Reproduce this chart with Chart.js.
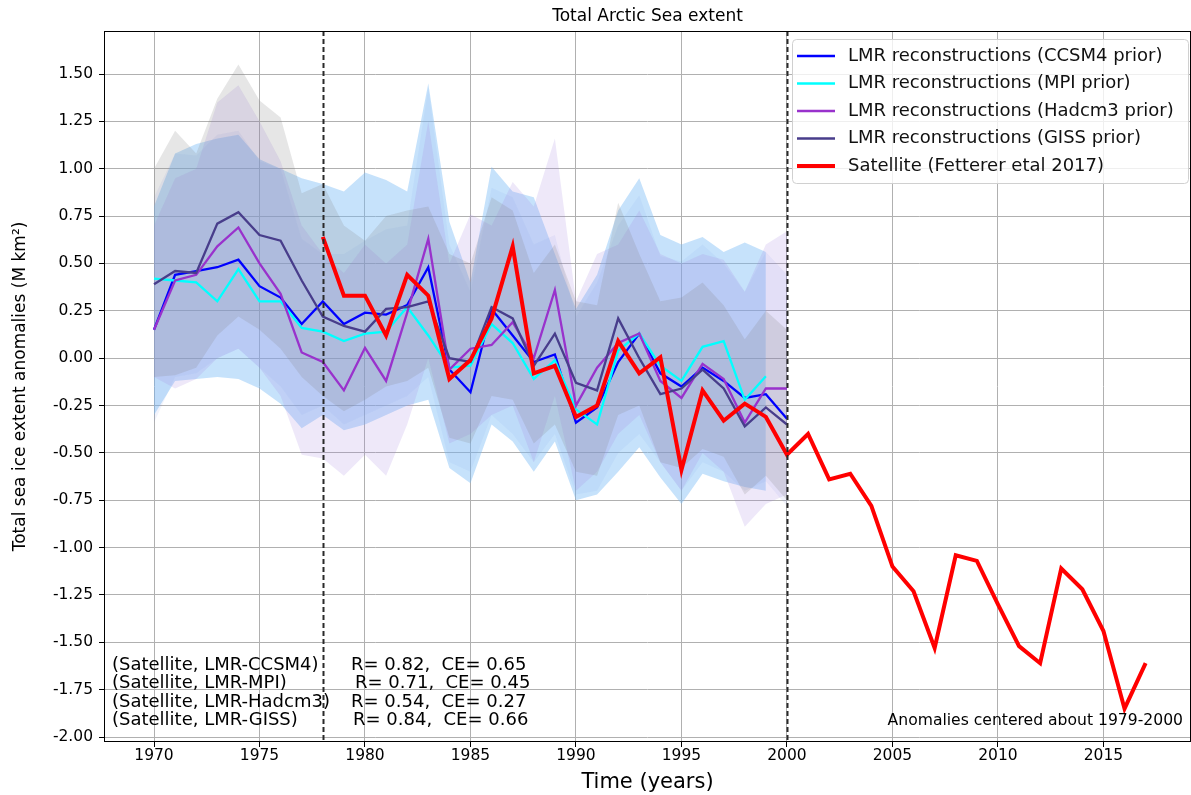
<!DOCTYPE html>
<html>
<head>
<meta charset="utf-8">
<script src="https://cdn.jsdelivr.net/npm/chart.js@4.4.1/dist/chart.umd.min.js"></script>
<style>
  html, body { margin: 0; padding: 0; background: #fff; }
</style>
</head>
<body>
<canvas id="iceChart" width="1191" height="795"></canvas>
<script>
// --- data ---
const years = [1970, 1971, 1972, 1973, 1974, 1975, 1976, 1977, 1978, 1979, 1980, 1981, 1982, 1983, 1984, 1985,
  1986, 1987, 1988, 1989, 1990, 1991, 1992, 1993, 1994, 1995, 1996, 1997, 1998, 1999, 2000];
const mpiYears = years.slice(0, 30);

const ccsm4 = [0.15, 0.44, 0.46, 0.48, 0.52, 0.38, 0.32, 0.18, 0.30, 0.18, 0.24, 0.23, 0.28, 0.48, -0.06, -0.18,
  0.26, 0.12, -0.02, 0.02, -0.34, -0.26, -0.02, 0.13, -0.08, -0.15, -0.05, -0.12, -0.21, -0.19, -0.32];
const mpi = [0.42, 0.41, 0.40, 0.30, 0.47, 0.30, 0.30, 0.16, 0.14, 0.09, 0.13, 0.14, 0.27, 0.12, -0.05, -0.04,
  0.18, 0.08, -0.11, -0.01, -0.27, -0.35, 0.04, 0.13, -0.04, -0.12, 0.06, 0.09, -0.22, -0.095];
const hadcm3 = [0.15, 0.41, 0.44, 0.59, 0.69, 0.50, 0.34, 0.03, -0.02, -0.17, 0.055, -0.12, 0.24, 0.63, -0.06, 0.05,
  0.07, 0.19, 0.0, 0.36, -0.25, -0.05, 0.08, 0.13, -0.12, -0.21, -0.03, -0.11, -0.34, -0.16, -0.16];
const giss = [0.39, 0.46, 0.45, 0.71, 0.77, 0.65, 0.62, 0.41, 0.22, 0.17, 0.14, 0.26, 0.27, 0.30, 0.0, -0.02,
  0.27, 0.21, -0.04, 0.13, -0.13, -0.17, 0.21, 0.0, -0.19, -0.16, -0.06, -0.16, -0.36, -0.26, -0.35];

// uncertainty ranges of each reconstruction
const ccsm4Hi = [0.85, 1.08, 1.07, 1.18, 1.20, 1.04, 1.00, 0.63, 0.55, 0.55, 0.62, 0.68, 0.70, 1.43, 0.60, 0.35,
  0.90, 0.85, 0.60, 0.65, 0.22, 0.40, 0.70, 0.86, 0.54, 0.51, 0.60, 0.50, 0.35, 0.56, 0.44];
const ccsm4Lo = [-0.34, -0.10, -0.08, 0.0, 0.05, -0.05, -0.15, -0.30, -0.25, -0.35, -0.30, -0.25, -0.20, -0.10, -0.55, -0.60,
  -0.30, -0.40, -0.55, -0.40, -0.72, -0.70, -0.50, -0.40, -0.55, -0.70, -0.55, -0.60, -0.70, -0.65, -0.78];
const mpiHi = [0.80, 1.08, 1.13, 1.16, 1.18, 1.05, 1.00, 0.95, 0.92, 0.88, 0.98, 0.94, 0.88, 1.45, 0.72, 0.40,
  1.01, 0.88, 0.85, 0.55, 0.26, 0.44, 0.78, 0.95, 0.65, 0.60, 0.64, 0.56, 0.61, 0.56];
const mpiLo = [-0.30, -0.12, -0.11, -0.10, -0.11, -0.16, -0.24, -0.37, -0.30, -0.38, -0.35, -0.30, -0.25, -0.22, -0.58, -0.66,
  -0.35, -0.44, -0.60, -0.44, -0.75, -0.72, -0.60, -0.47, -0.63, -0.77, -0.61, -0.65, -0.68, -0.70];
const hadcm3Hi = [0.70, 0.95, 1.00, 1.35, 1.44, 1.25, 1.04, 0.70, 0.55, 0.45, 0.60, 0.50, 0.60, 1.25, 0.50, 0.76,
  0.70, 0.93, 0.80, 1.16, 0.30, 0.55, 0.60, 0.78, 0.55, 0.50, 0.55, 0.52, 0.35, 0.60, 0.67];
const hadcm3Lo = [-0.10, -0.16, -0.11, 0.0, 0.05, -0.05, -0.20, -0.51, -0.53, -0.62, -0.51, -0.62, -0.35, 0.0, -0.45, -0.40,
  -0.30, -0.25, -0.55, -0.20, -0.70, -0.60, -0.40, -0.30, -0.55, -0.70, -0.50, -0.60, -0.89, -0.77, -0.72];
const gissHi = [1.00, 1.20, 1.08, 1.37, 1.55, 1.36, 1.27, 0.87, 0.92, 0.70, 0.62, 0.75, 0.78, 0.80, 0.55, 0.50,
  0.85, 0.78, 0.45, 0.60, 0.30, 0.28, 0.82, 0.55, 0.30, 0.32, 0.40, 0.28, 0.10, 0.25, 0.15];
const gissLo = [-0.10, -0.09, -0.05, 0.12, 0.22, 0.15, 0.05, -0.10, -0.20, -0.28, -0.22, -0.15, -0.12, -0.05, -0.42, -0.45,
  -0.20, -0.22, -0.45, -0.35, -0.60, -0.62, -0.30, -0.25, -0.55, -0.58, -0.48, -0.52, -0.72, -0.62, -0.75];

const satYears = [1978, 1979, 1980, 1981, 1982, 1983, 1984, 1985, 1986, 1987, 1988, 1989, 1990, 1991, 1992, 1993,
  1994, 1995, 1996, 1997, 1998, 1999, 2000, 2001, 2002, 2003, 2004, 2005, 2006, 2007, 2008, 2009, 2010, 2011,
  2012, 2013, 2014, 2015, 2016, 2017];
const satellite = [0.64, 0.33, 0.33, 0.12, 0.44, 0.33, -0.11, -0.01, 0.21, 0.59, -0.08, -0.04, -0.31, -0.25, 0.09, -0.08,
  0.005, -0.59, -0.17, -0.33, -0.24, -0.31, -0.51, -0.40, -0.64, -0.61, -0.78, -1.10, -1.23, -1.53, -1.04, -1.07,
  -1.30, -1.52, -1.61, -1.11, -1.22, -1.44, -1.85, -1.61];

const xTicks = [1970, 1975, 1980, 1985, 1990, 1995, 2000, 2005, 2010, 2015];
const yTicks = [-2, -1.75, -1.5, -1.25, -1, -0.75, -0.5, -0.25, 0, 0.25, 0.5, 0.75, 1, 1.25, 1.5];
const markerYears = [1978, 2000];
const statNames = ["(Satellite, LMR-CCSM4)", "(Satellite, LMR-MPI)", "(Satellite, LMR-Hadcm3)", "(Satellite, LMR-GISS)"];
const statValues = ["R= 0.82,  CE= 0.65", "R= 0.71,  CE= 0.45", "R= 0.54,  CE= 0.27", "R= 0.84,  CE= 0.66"];

const pts = (xs, ys) => ys.map((v, i) => ({ x: xs[i], y: v }));

function line(label, xs, ys, color, width, order) {
  return { label, data: pts(xs, ys), borderColor: color, backgroundColor: color, borderWidth: width,
    pointRadius: 0, fill: false, tension: 0, order, inLegend: true };
}
function band(xs, hi, lo, color) {
  return [
    { data: pts(xs, hi), borderWidth: 0, pointRadius: 0, fill: "+1", backgroundColor: color, order: 10 },
    { data: pts(xs, lo), borderWidth: 0, pointRadius: 0, fill: false, order: 10 }
  ];
}

const FONT = "'DejaVu Sans', sans-serif";

const overlay = {
  id: "overlay",
  afterDatasetsDraw(chart) {
    const { ctx, chartArea: a, scales: { x } } = chart;
    ctx.save();
    ctx.strokeStyle = "#2a2a2a";
    ctx.lineWidth = 2;
    ctx.setLineDash([5, 3]);
    markerYears.forEach(yr => {
      const px = Math.round(x.getPixelForValue(yr)) + 0.5;
      ctx.beginPath();
      ctx.moveTo(px, a.top);
      ctx.lineTo(px, a.bottom);
      ctx.stroke();
    });
    ctx.restore();
  },
  afterDraw(chart) {
    const { ctx, chartArea: a } = chart;
    ctx.save();
    // frame
    ctx.strokeStyle = "#000";
    ctx.lineWidth = 1;
    ctx.strokeRect(a.left + 0.5, a.top + 0.5, a.right - a.left - 1, a.bottom - a.top - 1);

    // title, centred over the plot area
    ctx.fillStyle = "#000";
    ctx.textAlign = "center";
    ctx.textBaseline = "middle";
    ctx.font = "17px " + FONT;
    ctx.fillText("Total Arctic Sea extent", (a.left + a.right) / 2, 17);

    // stats text
    ctx.textAlign = "left";
    ctx.font = "18px " + FONT;
    const rows = [665, 683, 702, 720];
    const rx = [351, 355, 351, 353];
    statNames.forEach((s, i) => {
      ctx.fillText(s, 112, rows[i]);
      ctx.fillText(statValues[i], rx[i], rows[i]);
    });
    ctx.font = "15.6px " + FONT;
    ctx.textAlign = "right";
    ctx.fillText("Anomalies centered about 1979-2000", 1183, 721);

    // legend
    const items = chart.data.datasets.filter(d => d.inLegend);
    const bx = 792, by = 39, bw = 396, bh = 144;
    ctx.fillStyle = "rgba(255,255,255,0.8)";
    ctx.strokeStyle = "#d0d0d0";
    ctx.lineWidth = 1;
    ctx.beginPath();
    ctx.roundRect(bx + 0.5, by + 0.5, bw, bh, 4);
    ctx.fill();
    ctx.stroke();
    ctx.textAlign = "left";
    ctx.font = "18px " + FONT;
    items.forEach((d, i) => {
      const yy = 56 + i * 27.5;
      ctx.strokeStyle = d.borderColor;
      ctx.lineWidth = d.borderWidth;
      ctx.setLineDash([]);
      ctx.beginPath();
      ctx.moveTo(797, yy);
      ctx.lineTo(835, yy);
      ctx.stroke();
      ctx.fillStyle = "#111";
      ctx.fillText(d.label, 848, yy);
    });
    ctx.restore();
  }
};

const datasets = [
  line("LMR reconstructions (CCSM4 prior)", years, ccsm4, "#0000ff", 2.3, 4),
  line("LMR reconstructions (MPI prior)", mpiYears, mpi, "#00ffff", 2.3, 3),
  line("LMR reconstructions (Hadcm3 prior)", years, hadcm3, "#9932cc", 2.3, 2),
  line("LMR reconstructions (GISS prior)", years, giss, "#483d8b", 2.3, 1),
  line("Satellite (Fetterer etal 2017)", satYears, satellite, "#ff0000", 4, 0),
  ...band(years, gissHi, gissLo, "rgba(128,128,128,0.2)"),
  ...band(years, hadcm3Hi, hadcm3Lo, "rgba(160,130,220,0.18)"),
  ...band(mpiYears, mpiHi, mpiLo, "rgba(120,185,245,0.42)"),
  ...band(years, ccsm4Hi, ccsm4Lo, "rgba(100,120,225,0.09)")
];

new Chart(document.getElementById("iceChart"), {
  type: "line",
  data: { datasets },
  options: {
    responsive: false,
    animation: false,
    layout: { padding: { left: 0, right: 0, top: 31, bottom: 0 } },
    plugins: {
      legend: { display: false },
      tooltip: { enabled: false },
      title: { display: false }
    },
    scales: {
      x: {
        type: "linear",
        min: 1967.63,
        max: 2019.15,
        afterBuildTicks: s => { s.ticks = xTicks.map(v => ({ value: v })); },
        afterFit: s => { s.height = 53; },
        ticks: { color: "#000", font: { family: FONT, size: 15.5 }, padding: 0, maxRotation: 0,
          callback: v => String(v) },
        grid: { color: "#b0b0b0", tickColor: "#000", tickLength: 5, lineWidth: 1 },
        border: { display: false },
        title: { display: true, text: "Time (years)", color: "#000",
          font: { family: FONT, size: 21 }, padding: { top: 0, bottom: 0 } }
      },
      y: {
        min: -2.026,
        max: 1.727,
        afterBuildTicks: s => { s.ticks = yTicks.map(v => ({ value: v })); },
        afterFit: s => { s.width = 104; },
        ticks: { color: "#000", font: { family: FONT, size: 15.5 }, padding: 6,
          callback: v => v.toFixed(2) },
        grid: { color: "#b0b0b0", tickColor: "#000", tickLength: 5, lineWidth: 1 },
        border: { display: false },
        title: { display: true, text: "Total sea ice extent anomalies (M km²)", color: "#000",
          font: { family: FONT, size: 17 }, padding: { top: 10, bottom: 0 } }
      }
    }
  },
  plugins: [overlay]
});
</script>
</body>
</html>
